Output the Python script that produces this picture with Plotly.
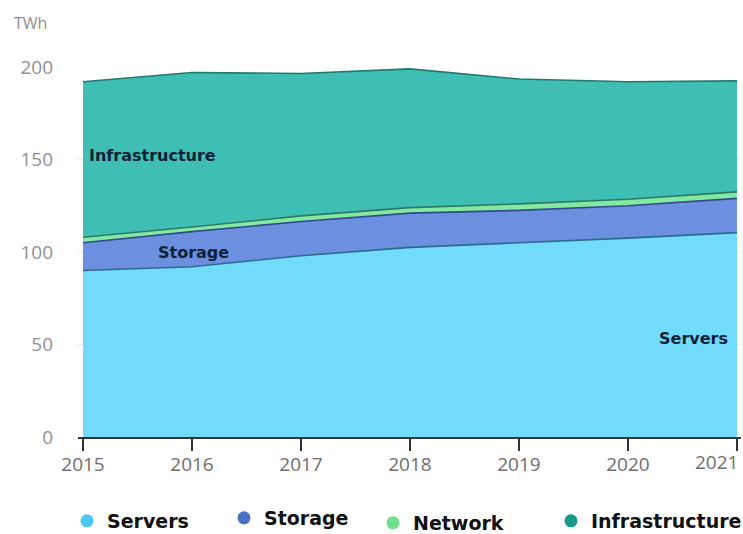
import plotly.graph_objects as go

years = [2015, 2016, 2017, 2018, 2019, 2020, 2021]
servers = [90, 92, 98, 102.5, 105, 107.5, 110.5]
storage = [15, 19, 18.5, 18.5, 17.5, 17.5, 18.5]
network = [3, 2.5, 3, 3, 3.5, 3.5, 3.5]
infrastructure = [84, 83.5, 77, 75, 67.5, 63.5, 60]

series = [
    ("Servers", servers, "#72dbfc", "#2c6a8c", "#4cc6f4"),
    ("Storage", storage, "#6c8fdf", "#2f4c8c", "#4a6fc6"),
    ("Network", network, "#84e8a0", "#2a7a66", "#6fe08c"),
    ("Infrastructure", infrastructure, "#3fbfb4", "#23776f", "#17998a"),
]

fig = go.Figure()
for name, vals, fillc, linec, _ in series:
    fig.add_trace(go.Scatter(
        x=years, y=vals, name=name, stackgroup="one", mode="lines",
        line=dict(color=linec, width=1.6), fillcolor=fillc, showlegend=False,
        hoverinfo="x+y+name",
    ))

legend_names = ["legend", "legend2", "legend3", "legend4"]
legend_x = [67, 224, 373, 551]
legend_y = [521, 518, 523, 521]
for (name, vals, fillc, linec, mcol), lg in zip(series, legend_names):
    fig.add_trace(go.Scatter(
        x=[None], y=[None], mode="markers", name=name,
        marker=dict(color=mcol, size=13, symbol="circle"),
        showlegend=True, legend=lg,
    ))

W, H = 743, 534
pl, pr, pt, pb = 78, 741, 67, 437

def px_to_paper_x(px):
    return (px - pl) / (pr - pl)

def px_to_paper_y(py):
    return (pb - py) / (pb - pt)

legend_font = dict(family="DejaVu Sans", size=19, color="#111111", weight="bold")
layout_legends = {}
for lg, lx, ly in zip(legend_names, legend_x, legend_y):
    layout_legends[lg] = dict(
        xref="container", yref="container",
        x=lx / W, y=1 - ly / H, xanchor="left", yanchor="middle",
        orientation="h", font=legend_font,
        bgcolor="rgba(0,0,0,0)", borderwidth=0, itemclick=False,
    )

label_font = dict(family="DejaVu Sans", size=16, color="#0c2236", weight="bold")
tick_font_x = dict(family="Open Sans", size=19, color="#6e6e6e")

fig.update_layout(
    width=W, height=H,
    margin=dict(l=pl, r=W - pr, t=pt, b=H - pb, pad=0, autoexpand=False),
    paper_bgcolor="white", plot_bgcolor="white",
    xaxis=dict(
        range=[2014.954, 2021.037], tickvals=years,
        ticktext=[str(y) for y in years[:-1]] + [""],
        showgrid=False, zeroline=False, showline=True, linecolor="#333333", linewidth=2,
        ticks="outside", ticklen=12, tickwidth=2, tickcolor="#333333",
        ticklabelstandoff=-3,
        tickfont=tick_font_x,
    ),
    yaxis=dict(
        range=[0, 200], tickvals=[0, 50, 100, 150, 200],
        showgrid=True, gridcolor="#ececec", gridwidth=1, zeroline=False, showline=False,
        ticks="", ticklabelstandoff=24,
        tickfont=dict(family="Open Sans", size=19, color="#909090"),
    ),
    annotations=[
        dict(text="TWh", xref="paper", yref="paper", x=px_to_paper_x(12), y=px_to_paper_y(23),
             xanchor="left", yanchor="middle", showarrow=False,
             font=dict(family="Open Sans", size=16, color="#8f8f8f")),
        dict(text=str(years[-1]), xref="paper", yref="paper", x=px_to_paper_x(740),
             y=px_to_paper_y(462), xanchor="right", yanchor="middle", showarrow=False,
             font=tick_font_x),
        dict(text="Infrastructure", x=2015.04, y=152, xanchor="left", yanchor="middle",
             showarrow=False, font=label_font),
        dict(text="Storage", x=2016.01, y=100, xanchor="center", yanchor="middle",
             showarrow=False, font=label_font),
        dict(text="Servers", x=2020.6, y=53, xanchor="center", yanchor="middle",
             showarrow=False, font=label_font),
    ],
    **layout_legends,
)

fig.write_html("out.html")
